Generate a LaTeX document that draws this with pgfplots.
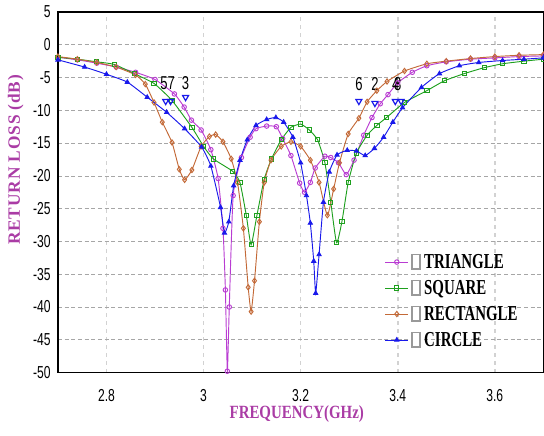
\documentclass[border=0pt]{standalone}
\usepackage{fontspec}
\setmainfont{Liberation Serif}
\newfontfamily\ticksfont[FakeStretch=0.7]{Liberation Sans}
\newfontfamily\legfont[FakeStretch=0.7]{Liberation Serif}
\newfontfamily\xlabfont[FakeStretch=0.8]{Liberation Serif}
\newfontfamily\ylabfont[LetterSpace=5]{Liberation Serif}
\usepackage{pgfplots}
\pgfplotsset{compat=1.18}
\definecolor{cTri}{RGB}{185,60,210}
\definecolor{cSq}{RGB}{30,160,30}
\definecolor{cRect}{RGB}{195,105,55}
\definecolor{cCirc}{RGB}{25,25,235}
\definecolor{cLab}{RGB}{170,60,165}
\newcommand{\cb}{{\setlength{\fboxsep}{0pt}\setlength{\fboxrule}{1pt}\fcolorbox{gray!80}{white}{\rule{0pt}{10pt}\hspace{5pt}}}}
\begin{document}
\begin{tikzpicture}
\useasboundingbox (-43.5pt,-47.25pt) rectangle (365pt,279.75pt);
\begin{axis}[
  at={(0,0)}, anchor=south west,
  scale only axis, width=364.5pt, height=270.75pt,
  xmin=2.7, xmax=3.7, ymin=-50, ymax=5,
  xtick={2.8,3,3.2,3.4,3.6}, ytick={-50,-45,...,5},
  major tick length=0pt,
  grid=major,
  major x grid style={dashed, gray!35, line width=1.2pt},
  major y grid style={densely dashed, gray!70, line width=0.5pt},
  axis line style={line width=1pt},
  /pgf/number format/assume math mode=true,
  xticklabel style={font=\ticksfont\fontsize{13}{14}\selectfont, yshift=-9pt},
  yticklabel style={font=\ticksfont\fontsize{13}{14}\selectfont, xshift=-2pt},
  every axis y label/.style={at={(axis description cs:-0.087,0.59)}, rotate=90, anchor=center},
  every axis x label/.style={at={(axis description cs:0.492,-0.116)}, anchor=center},
  ylabel={\ylabfont\bfseries\fontsize{13}{15}\selectfont\color{cLab}RETURN LOSS (dB)},
  xlabel={\xlabfont\bfseries\fontsize{14}{16}\selectfont\color{cLab}FREQUENCY(GHz)},
  legend style={draw=none, fill=none, at={(axis description cs:0.665,0.345)}, anchor=north west,
    font=\legfont\bfseries\fontsize{16}{18}\selectfont, row sep=3pt},
  legend cell align=left,
  every axis plot/.append style={line width=0.7pt},
]
\addplot[cTri, smooth, tension=0.3, mark=o, mark size=1.7pt] coordinates {
(2.70,-1.9)(2.74,-2.3)(2.78,-2.8)(2.82,-3.4)(2.86,-4.2)(2.90,-5.3)(2.94,-7.5)(2.96,-9.5)
(2.975,-11.5)(2.995,-13.0)(3.015,-16.0)(3.03,-20.4)(3.04,-28)(3.045,-37.4)(3.049,-49.8)
(3.053,-40)(3.061,-23)(3.078,-17.2)(3.096,-14.1)(3.108,-12.8)(3.13,-12.4)(3.15,-12.5)
(3.163,-14.3)(3.18,-16.9)(3.198,-21.1)(3.208,-22.5)(3.22,-21)(3.23,-18.8)(3.25,-17.0)
(3.262,-17.2)(3.278,-18.0)(3.294,-19.8)(3.31,-17.6)(3.33,-13.8)(3.347,-11.1)(3.364,-9.0)
(3.38,-7.6)(3.40,-5.8)(3.43,-4.2)(3.46,-3.2)(3.50,-2.6)(3.55,-2.2)(3.60,-2.0)(3.65,-1.8)(3.70,-1.7)
};
\addlegendentry{\cb\,TRIANGLE}
\addplot[cSq, smooth, tension=0.3, mark=square, mark size=1.6pt] coordinates {
(2.70,-1.9)(2.74,-2.2)(2.78,-2.6)(2.816,-3.0)(2.857,-4.4)(2.898,-5.9)(2.935,-8.5)(2.976,-12.6)
(3.0,-15.5)(3.02,-17.4)(3.06,-19.3)(3.075,-21)(3.088,-26)(3.098,-30.5)(3.11,-26)(3.125,-20.5)
(3.14,-17.4)(3.16,-14.5)(3.18,-12.6)(3.20,-12.1)(3.218,-13.0)(3.235,-14.5)(3.25,-18)(3.262,-24)
(3.274,-30.2)(3.285,-27)(3.298,-21)(3.315,-16.5)(3.337,-13.8)(3.357,-12.3)(3.377,-11.1)(3.414,-8.8)
(3.46,-7.0)(3.496,-5.5)(3.537,-4.4)(3.578,-3.5)(3.616,-2.9)(3.66,-2.5)(3.70,-2.2)
};
\addlegendentry{\cb\,SQUARE}
\addplot[cRect, smooth, tension=0.3, mark=diamond, mark size=2pt] coordinates {
(2.70,-1.8)(2.74,-2.2)(2.78,-2.7)(2.82,-3.4)(2.86,-4.6)(2.88,-6.0)(2.898,-8.8)(2.915,-11.8)
(2.935,-14.9)(2.95,-19)(2.961,-20.6)(2.976,-19.1)(2.995,-15.5)(3.012,-14.0)(3.025,-13.7)(3.04,-14.8)
(3.057,-17.4)(3.07,-21)(3.082,-28)(3.092,-37)(3.098,-40.7)(3.105,-36)(3.115,-27)(3.125,-21)
(3.139,-17.6)(3.16,-15.5)(3.18,-14.8)(3.20,-15.5)(3.22,-17.6)(3.238,-21)(3.255,-26)(3.268,-22)
(3.28,-18)(3.298,-13.6)(3.32,-11.2)(3.337,-8.7)(3.357,-7.0)(3.378,-5.6)(3.414,-4.0)(3.46,-2.9)
(3.50,-2.5)(3.55,-2.1)(3.60,-1.8)(3.65,-1.6)(3.70,-1.5)
};
\addlegendentry{\cb\,RECTANGLE}
\addplot[cCirc, smooth, tension=0.3, mark=triangle*, mark size=1.8pt] coordinates {
(2.70,-2.3)(2.755,-3.4)(2.80,-4.5)(2.843,-5.7)(2.884,-8.0)(2.924,-10.3)(2.961,-12.8)(2.996,-15.6)
(3.015,-18.5)(3.035,-24.8)(3.043,-28.7)(3.052,-27)(3.062,-21.5)(3.075,-17.6)(3.09,-14.5)(3.108,-12.3)
(3.13,-11.4)(3.149,-11.1)(3.165,-11.8)(3.184,-14.1)(3.20,-18)(3.212,-23)(3.22,-27.2)(3.227,-33)
(3.231,-37.9)(3.238,-32)(3.247,-24)(3.259,-19.4)(3.275,-16.8)(3.296,-16.1)(3.315,-16.2)(3.333,-16.9)
(3.352,-15.8)(3.371,-14.1)(3.39,-11.8)(3.41,-9.6)(3.449,-6.5)(3.486,-4.4)(3.527,-3.2)(3.567,-2.7)
(3.616,-2.4)(3.66,-2.2)(3.70,-2.0)
};
\addlegendentry{\cb\,CIRCLE}
\addplot[cCirc, only marks, mark=triangle, mark options={rotate=180}, mark size=2.6pt, line width=0.9pt, forget plot] coordinates {
(2.922,-8.6)(2.932,-8.6)(2.963,-8.0)(3.32,-8.6)(3.353,-8.9)(3.395,-8.6)(3.407,-8.6)
};
\node[font=\ticksfont\fontsize{14}{15}\selectfont, inner sep=0pt] at (axis cs:2.926,-5.9) {57};
\node[font=\ticksfont\fontsize{14}{15}\selectfont, inner sep=0pt] at (axis cs:2.963,-5.9) {3};
\node[font=\ticksfont\fontsize{14}{15}\selectfont, inner sep=0pt] at (axis cs:3.32,-6.0) {6};
\node[font=\ticksfont\fontsize{14}{15}\selectfont, inner sep=0pt] at (axis cs:3.353,-6.0) {2};
\node[font=\ticksfont\fontsize{14}{15}\selectfont, inner sep=0pt] at (axis cs:3.40,-6.0) {8};
\node[font=\ticksfont\fontsize{14}{15}\selectfont, inner sep=0pt] at (axis cs:3.396,-6.0) {4};
\end{axis}
\end{tikzpicture}
\end{document}
